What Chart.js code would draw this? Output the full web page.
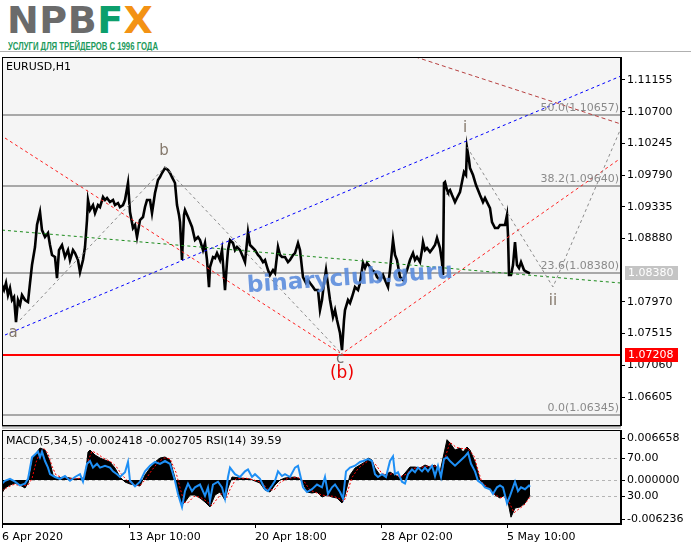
<!DOCTYPE html>
<html><head><meta charset="utf-8">
<script src="https://cdn.jsdelivr.net/npm/chart.js"></script>
<style>
html,body{margin:0;padding:0;background:#fff;width:691px;height:549px;overflow:hidden;position:relative;font-family:"DejaVu Sans",sans-serif}
#logo{position:absolute;left:7px;top:-2px;font:bold 38px "DejaVu Sans";line-height:44px;white-space:nowrap;letter-spacing:0.5px}
#logo .g{color:#6b6b6b}#logo .f{color:#0c9f6c}#logo .x{color:#f39214}
#sub{position:absolute;left:8px;top:40px;font:bold 11px "Liberation Sans";color:#1c9a5c;white-space:nowrap;transform-origin:0 0}
#topline{position:absolute;left:0;top:51px;width:691px;height:1px;background:#b0b0b0}
#sep{position:absolute;left:2px;top:426px;width:619px;height:2px;border-top:1px solid #8a8a8a;background:#d0d0d0}
canvas{position:absolute;left:0}
#price{top:57px}#macd{top:430px}
</style></head><body>
<div id="logo"><span class="g">NPB</span><span class="f">F</span><span class="x">X</span></div>
<div id="sub">УСЛУГИ ДЛЯ ТРЕЙДЕРОВ С 1996 ГОДА</div>
<div id="topline"></div>
<div id="sep"></div>
<canvas id="price" width="691" height="369"></canvas>
<canvas id="macd" width="691" height="119"></canvas>
<script>
// ---------------- DATA ----------------
const symbolTitle = 'EURUSD,H1';
const xTickIdx = [0, 127, 253, 379, 505];
const xTickLabels = ['6 Apr 2020', '13 Apr 10:00', '20 Apr 18:00', '28 Apr 02:00', '5 May 10:00'];
const priceTicks = [1.11155, 1.10700, 1.10245, 1.09790, 1.09335, 1.08880, 1.07970, 1.07515, 1.07060, 1.06605];
const priceMin = 1.06189, priceMax = 1.11485;

const priceIdx = [
0,2,4,6,8,10,12,14,16,18,
20,23,26,28,30,33,35,38,40,43,
46,48,50,53,55,57,60,63,66,68,
71,73,76,78,81,83,85,86,88,91,
93,96,98,101,103,105,108,111,113,116,
118,121,123,126,128,131,133,135,138,141,
143,145,148,150,153,156,158,160,163,166,
168,170,173,175,177,178,180,182,183,186,
188,190,193,196,198,201,203,205,207,208,
211,213,215,218,220,223,225,226,228,231,
233,235,238,241,243,246,248,250,253,256,
258,261,263,266,268,271,273,276,278,280,
283,286,288,291,293,296,298,301,304,306,
308,311,313,316,318,320,322,324,326,328,
331,333,335,338,340,342,343,346,348,350,
353,356,358,361,363,365,368,370,373,375,
378,381,383,386,388,391,393,395,398,401,
403,405,408,411,413,415,418,420,421,423,
425,428,431,433,435,438,440,441,442,443,
445,446,448,450,453,455,458,460,462,464,
465,467,468,471,474,476,478,481,483,485,
488,490,493,496,498,500,503,505,506,507,
509,511,513,515,517,519,522,525,528];
const priceVal = [
1.08212,1.08140,1.08241,1.08068,1.08169,1.07997,1.08040,1.07681,1.07997,1.07925,
1.08068,1.07997,1.07968,1.08241,1.08499,1.08758,1.09073,1.09260,1.09001,1.08901,
1.08958,1.08786,1.08643,1.08614,1.08312,1.08714,1.08786,1.08614,1.08714,1.08571,
1.08714,1.08671,1.08571,1.08399,1.08571,1.08758,1.09145,1.09432,1.09288,1.09360,
1.09245,1.09360,1.09332,1.09475,1.09432,1.09461,1.09403,1.09432,1.09360,1.09389,
1.09332,1.09360,1.09432,1.09676,1.09260,1.09030,1.09073,1.08901,1.09145,1.09188,
1.09332,1.09432,1.09432,1.09245,1.09532,1.09719,1.09762,1.09820,1.09891,1.09863,
1.09820,1.09762,1.09676,1.09360,1.09217,1.09116,1.08571,1.09217,1.09288,1.09188,
1.09116,1.09045,1.08858,1.08901,1.08858,1.08714,1.08815,1.08571,1.08183,1.08471,
1.08614,1.08599,1.08671,1.08571,1.08714,1.08140,1.08542,1.08714,1.08858,1.08815,
1.08714,1.08758,1.08714,1.08614,1.08542,1.08973,1.08786,1.08758,1.08714,1.08643,
1.08614,1.08542,1.08571,1.08427,1.08356,1.08427,1.08384,1.08758,1.08643,1.08614,
1.08614,1.08542,1.08571,1.08643,1.08671,1.08815,1.08714,1.08327,1.08241,1.08284,
1.08241,1.08183,1.08140,1.08140,1.07853,1.07997,1.08241,1.08427,1.08212,1.07997,
1.07753,1.07853,1.07710,1.07523,1.07279,1.07710,1.07853,1.07997,1.07954,1.08040,
1.08183,1.08140,1.08241,1.08528,1.08456,1.08528,1.08471,1.08427,1.08399,1.08327,
1.08284,1.08356,1.08284,1.08183,1.08427,1.08858,1.08643,1.08571,1.08327,1.08284,
1.08356,1.08427,1.08571,1.08671,1.08571,1.08614,1.08542,1.08714,1.08829,1.08714,
1.08743,1.08686,1.08743,1.08786,1.08887,1.08743,1.08542,1.08356,1.09676,1.09690,
1.09576,1.09547,1.09576,1.09504,1.09403,1.09461,1.09547,1.09690,1.09834,1.09791,
1.10179,1.10006,1.09891,1.09791,1.09647,1.09576,1.09504,1.09403,1.09461,1.09403,
1.09317,1.09116,1.09030,1.09030,1.09073,1.09073,1.09073,1.09217,1.08930,1.08356,
1.08356,1.08499,1.08829,1.08499,1.08456,1.08542,1.08427,1.08399,1.08380];

const bidPrice = 1.08380;
const supportLevel = 1.07208;
const fibLevels = ['0.0', '23.6', '38.2', '50.0'];
const fibPrices = [1.06345, 1.08380, 1.09640, 1.10657];

// trend / wave lines (endpoints as bar index and price)
const blueIdx = [3, 619], blueVal = [1.07495, 1.11212];
const redTopIdx = [380, 619], redTopVal = [1.11643, 1.10523];
const redDownIdx = [3, 338], redDownVal = [1.10322, 1.07237];
const redUpIdx = [338, 619], redUpVal = [1.07208, 1.10035];
const greenIdx = [0, 619], greenVal = [1.09001, 1.08241];
const waveAIdx = [18, 163, 338], waveAVal = [1.07710, 1.09906, 1.07251];
const waveBIdx = [465, 551, 619], waveBVal = [1.10193, 1.08184, 1.10466];

const waveText = ['a', 'b', 'c', '(b)', 'i', 'ii'];
const waveIdx = [11, 162, 338, 340, 463, 551];
const wavePrice = [1.07523, 1.10136, 1.07150, 1.06935, 1.10466, 1.07983];
const watermarkText = 'binaryclub.guru';
const watermarkIdx = 348, watermarkPrice = 1.08299;

// MACD(5,34,5) main, signal, RSI(14)
const macdIdx = [0,3,8,13,18,23,26,28,31,35,38,43,48,51,55,63,73,83,86,88,93,98,103,108,113,118,123,128,133,138,143,148,153,158,163,168,173,176,180,183,188,193,198,203,208,213,218,223,226,230,238,248,253,258,263,268,273,278,283,293,298,301,305,310,315,320,325,330,335,340,343,348,353,358,363,366,370,373,378,383,388,393,398,403,408,413,418,423,428,433,438,441,445,448,453,458,461,465,468,473,478,483,488,493,498,503,506,509,513,518,523,528];
const macdVal = [-0.00206,-0.00127,-0.00079,-0.00048,-0.00079,-0.00127,-0.00048,0.00079,0.00349,0.00444,
0.00508,0.00476,0.00286,0.00079,0.00032,0.00048,0.00016,0.00032,0.00444,0.00476,
0.00397,0.00349,0.00317,0.00286,0.00190,0.00048,-0.00032,-0.00063,-0.00079,-0.00095,
0.00079,0.00190,0.00286,0.00349,0.00365,0.00317,0.00032,-0.00190,-0.00397,-0.00349,
-0.00238,-0.00238,-0.00286,-0.00349,-0.00428,-0.00238,-0.00190,-0.00317,-0.00127,0.00048,
0.00032,0.00016,-0.00016,-0.00048,-0.00159,-0.00190,-0.00079,0,0.00032,0.00048,
0.00016,-0.00048,-0.00190,-0.00206,-0.00190,-0.00270,-0.00238,-0.00270,-0.00286,-0.00365,
-0.00238,0.00079,0.00190,0.00238,0.00286,0.00349,0.00317,0.00190,0.00079,0.00079,
0.00127,0.00079,0.00032,0.00111,0.00206,0.00206,0.00190,0.00238,0.00206,0.00238,
0.00127,0.00349,0.00640,0.00587,0.00476,0.00508,0.00444,0.00524,0.00476,0.00286,
0,-0.00111,-0.00127,-0.00238,-0.00286,-0.00238,-0.00349,-0.00590,-0.00444,-0.00428,
-0.00365,-0.002418];
const sigIdx = [0,6,12,20,26,30,34,38,42,46,50,54,60,70,82,86,90,96,102,108,114,120,126,132,138,144,150,156,162,168,174,178,182,186,192,198,204,210,215,220,225,228,234,244,252,260,266,272,278,286,296,302,308,314,320,326,332,338,342,346,350,356,362,368,374,380,386,392,398,404,410,418,426,434,440,444,448,454,460,466,472,476,480,486,492,498,504,508,512,516,522,528];
const sigVal = [-0.0017,-0.0011,-0.0007,-0.0009,-0.0008,0.0002,0.0028,0.0044,0.0050,0.0042,
0.0022,0.0008,0.0004,0.0002,0.0003,0.0030,0.0046,0.0041,0.0034,0.0030,
0.0022,0.0008,-0.0002,-0.0007,-0.0009,0.0002,0.0016,0.0028,0.0035,0.0034,
0.0012,-0.0012,-0.0035,-0.0036,-0.0026,-0.0027,-0.0033,-0.0041,-0.0030,-0.0021,
-0.0028,-0.0015,0.0002,0.0003,0.0000,-0.0004,-0.0015,-0.0016,-0.0004,0.0003,
0.0004,-0.0002,-0.0016,-0.0020,-0.0024,-0.0025,-0.0026,-0.0030,-0.0034,-0.0016,
0.0004,0.0018,0.0026,0.0032,0.0024,0.0010,0.0008,0.0011,0.0005,0.0009,
0.0018,0.0020,0.0022,0.0022,0.0015,0.0040,0.0060,0.0052,0.0050,0.0050,
0.0038,0.0016,-0.0004,-0.0012,-0.0022,-0.0028,-0.0027,-0.0038,-0.0052,-0.0047,
-0.0040,-0.002705];
const rsiIdx = [0,3,8,13,18,23,26,30,33,36,38,40,43,46,48,53,58,63,68,73,78,81,85,88,91,95,98,103,108,111,115,118,123,126,128,133,138,143,148,153,158,163,168,173,176,180,183,186,190,193,198,203,206,208,211,216,220,223,226,228,233,238,243,246,250,253,258,263,266,270,273,276,280,283,288,293,296,298,301,305,310,315,320,323,326,330,333,338,341,344,348,353,358,361,366,370,373,376,380,384,388,391,393,396,400,403,406,410,413,416,420,423,426,430,433,436,439,442,445,448,453,458,463,466,469,473,476,480,483,488,491,495,498,501,505,508,511,513,516,519,523,527,528];
const rsiVal = [43,46,48,45,41,43,48,71,74,77,
71,77,67,60,53,50,48,51,46,50,
53,45,64,67,60,64,60,62,60,56,
53,50,55,66,46,40,45,56,62,66,
64,67,64,46,32,18,35,43,35,39,
42,30,39,25,42,45,39,27,50,60,
53,50,56,58,50,53,48,37,35,41,
46,56,51,53,50,60,62,53,39,34,
37,42,39,50,32,39,42,34,27,56,
60,62,66,67,69,67,53,50,53,50,
67,72,53,55,45,43,53,58,55,60,
56,60,56,62,51,62,50,69,71,67,
62,67,72,76,64,56,46,43,39,37,
32,39,41,39,22,30,39,45,35,39,
37,41,39.59];
const macdTicks = [0.006658, 0, -0.006236];
const macdMin = -0.00698, macdMax = 0.00794;
const rsiLevels = [70, 30];

// ---------------- RENDER ----------------
Chart.defaults.font.family = 'DejaVu Sans';
Chart.defaults.font.size = 11;
const FONT = '11px "DejaVu Sans"';
const pts = (xs, ys) => xs.slice(0, Math.min(xs.length, ys.length)).map((x, i) => ({x, y: ys[i]}));
const noPad = s => { s.paddingTop = 0; s.paddingBottom = 0; s.paddingLeft = 0; s.paddingRight = 0; };

const sub = document.getElementById('sub');
sub.style.transform = 'scaleX(' + (150 / sub.getBoundingClientRect().width) + ')';

const pricePanel = {
  id: 'pricePanel',
  beforeDraw(c) {
    const {ctx, chartArea: a} = c;
    ctx.save(); ctx.fillStyle = '#f5f5f5';
    ctx.fillRect(a.left, a.top, a.right - a.left, a.bottom - a.top); ctx.restore();
  },
  beforeDatasetsDraw(c) {
    const {ctx, chartArea: a, scales: {y}} = c;
    ctx.save();
    ctx.strokeStyle = '#8e8e8e'; ctx.lineWidth = 1.5;
    fibPrices.forEach(p => { const py = Math.round(y.getPixelForValue(p)); ctx.beginPath(); ctx.moveTo(a.left, py); ctx.lineTo(a.right, py); ctx.stroke(); });
    ctx.strokeStyle = '#ff0000'; ctx.lineWidth = 2;
    const ry = Math.round(y.getPixelForValue(supportLevel));
    ctx.beginPath(); ctx.moveTo(a.left, ry); ctx.lineTo(a.right, ry); ctx.stroke();
    ctx.restore();
  },
  afterDatasetsDraw(c) {
    const {ctx, chartArea: a, scales: {x, y}} = c;
    ctx.save();
    // fib labels
    ctx.font = FONT; ctx.fillStyle = '#8a8a8a'; ctx.textAlign = 'right'; ctx.textBaseline = 'bottom';
    fibPrices.forEach((p, i) => ctx.fillText(fibLevels[i] + '(' + p.toFixed(5) + ')', a.right - 2, Math.round(y.getPixelForValue(p)) - 1));
    // watermark
    ctx.save();
    ctx.translate(x.getPixelForValue(watermarkIdx), y.getPixelForValue(watermarkPrice));
    ctx.rotate(-4 * Math.PI / 180);
    ctx.font = 'bold 23px "DejaVu Sans"'; ctx.fillStyle = 'rgba(88,138,220,0.88)';
    ctx.textAlign = 'center'; ctx.textBaseline = 'middle';
    ctx.fillText(watermarkText, 0, 0);
    ctx.restore();
    // wave labels
    ctx.textAlign = 'center'; ctx.textBaseline = 'middle';
    waveText.forEach((t, i) => {
      ctx.font = t === '(b)' ? '17px "DejaVu Sans"' : '15px "DejaVu Sans"';
      ctx.fillStyle = t === '(b)' ? '#ee0000' : (t === 'c' ? '#6e6e6e' : '#85796c');
      ctx.fillText(t, x.getPixelForValue(waveIdx[i]), y.getPixelForValue(wavePrice[i]));
    });
    // title
    ctx.font = FONT; ctx.fillStyle = '#000'; ctx.textAlign = 'left'; ctx.textBaseline = 'middle';
    ctx.fillText(symbolTitle, a.left + 4, a.top + 10);
    // frame
    ctx.strokeStyle = '#000'; ctx.lineWidth = 1;
    ctx.strokeRect(a.left + 0.5, a.top + 0.5, a.right - a.left - 1, a.bottom - a.top - 1);
    ctx.restore();
  },
  afterDraw(c) {
    const {ctx, chartArea: a, scales: {y}} = c;
    ctx.save(); ctx.font = FONT; ctx.textAlign = 'left'; ctx.textBaseline = 'middle';
    const box = (p, bg, fg) => {
      const py = Math.round(y.getPixelForValue(p));
      ctx.fillStyle = bg; ctx.fillRect(a.right + 4, py - 7, 53, 14);
      ctx.fillStyle = fg; ctx.fillText(p.toFixed(5), a.right + 7, py);
    };
    box(bidPrice, '#c4c4c4', '#ffffff');
    box(supportLevel, '#ff0000', '#ffffff');
    ctx.restore();
  }
};

new Chart(document.getElementById('price'), {
  type: 'line',
  data: { datasets: [
    {data: pts(waveAIdx, waveAVal), borderColor: '#8c8c8c', borderDash: [3, 3], borderWidth: 1},
    {data: pts(waveBIdx, waveBVal), borderColor: '#8c8c8c', borderDash: [3, 3], borderWidth: 1},
    {data: pts(blueIdx, blueVal), borderColor: '#0000ff', borderDash: [3, 3], borderWidth: 1},
    {data: pts(redTopIdx, redTopVal), borderColor: '#b84040', borderDash: [4, 3], borderWidth: 1},
    {data: pts(redDownIdx, redDownVal), borderColor: '#ff2020', borderDash: [3, 3], borderWidth: 1},
    {data: pts(redUpIdx, redUpVal), borderColor: '#ff2020', borderDash: [3, 3], borderWidth: 1},
    {data: pts(greenIdx, greenVal), borderColor: '#1a8a1a', borderDash: [3, 3], borderWidth: 1},
    {data: pts(priceIdx, priceVal), borderColor: '#000', borderWidth: 2.6, tension: 0, borderJoinStyle: 'miter'}
  ]},
  options: {
    responsive: false, animation: false, devicePixelRatio: 1, events: [],
    elements: {point: {radius: 0}, line: {fill: false}},
    layout: {padding: {left: 2, right: 0, top: 0, bottom: 0}},
    plugins: {legend: {display: false}, tooltip: {enabled: false}},
    scales: {
      x: {type: 'linear', min: 0, max: 619, display: false},
      y: {position: 'right', min: priceMin, max: priceMax,
        afterFit: s => { s.width = 70; noPad(s); },
        afterBuildTicks: s => { s.ticks = priceTicks.map(v => ({value: v})); },
        ticks: {autoSkip: false, color: '#000', padding: 2, callback: v => v.toFixed(5)},
        grid: {drawOnChartArea: false, tickLength: 4, color: '#000'},
        border: {color: '#000'}}
    }
  },
  plugins: [pricePanel]
});

const macdPanel = {
  id: 'macdPanel',
  beforeDraw(c) {
    const {ctx, chartArea: a} = c;
    ctx.save(); ctx.fillStyle = '#f5f5f5';
    ctx.fillRect(a.left, a.top, a.right - a.left, a.bottom - a.top); ctx.restore();
  },
  beforeDatasetsDraw(c) {
    const {ctx, chartArea: a, scales: {y, y2}} = c;
    ctx.save(); ctx.strokeStyle = '#b4b4b4'; ctx.lineWidth = 1; ctx.setLineDash([3, 3]);
    const lines = [y.getPixelForValue(0)].concat(rsiLevels.map(v => y2.getPixelForValue(v)));
    lines.forEach(py => { py = Math.round(py) + 0.5; ctx.beginPath(); ctx.moveTo(a.left, py); ctx.lineTo(a.right, py); ctx.stroke(); });
    ctx.restore();
  },
  afterDatasetsDraw(c) {
    const {ctx, chartArea: a} = c;
    ctx.save(); ctx.font = FONT; ctx.fillStyle = '#000'; ctx.textAlign = 'left'; ctx.textBaseline = 'middle';
    const txt = 'MACD(5,34,5) ' + macdVal[macdVal.length - 1].toFixed(6) + ' ' + sigVal[sigVal.length - 1].toFixed(6) +
      ' RSI(14) ' + rsiVal[rsiVal.length - 1].toFixed(2);
    ctx.fillText(txt, a.left + 4, a.top + 11);
    ctx.strokeStyle = '#000'; ctx.lineWidth = 1;
    ctx.strokeRect(a.left + 0.5, a.top + 0.5, a.right - a.left - 1, a.bottom - a.top - 1);
    ctx.restore();
  },
  afterDraw(c) {
    const {ctx, chartArea: a, scales: {y2}} = c;
    ctx.save(); ctx.font = FONT; ctx.fillStyle = '#000'; ctx.textAlign = 'left'; ctx.textBaseline = 'middle';
    ctx.strokeStyle = '#000'; ctx.lineWidth = 1;
    rsiLevels.forEach(v => {
      const py = Math.round(y2.getPixelForValue(v));
      ctx.beginPath(); ctx.moveTo(a.right, py + 0.5); ctx.lineTo(a.right + 4, py + 0.5); ctx.stroke();
      ctx.fillText(v.toFixed(2), a.right + 6, py);
    });
    ctx.restore();
  }
};

new Chart(document.getElementById('macd'), {
  type: 'line',
  data: { datasets: [
    {data: pts(rsiIdx, rsiVal), yAxisID: 'y2', borderColor: '#1e8ff5', borderWidth: 2, tension: 0},
    {data: pts(sigIdx, sigVal), borderColor: '#ff0000', borderDash: [2, 2], borderWidth: 1},
    {data: pts(macdIdx, macdVal), borderColor: '#000', backgroundColor: '#000', borderWidth: 1, fill: 'origin'}
  ]},
  options: {
    responsive: false, animation: false, devicePixelRatio: 1, events: [],
    elements: {point: {radius: 0}},
    layout: {padding: {left: 2, right: 0, top: 0, bottom: 0}},
    plugins: {legend: {display: false}, tooltip: {enabled: false}},
    scales: {
      x: {type: 'linear', min: 0, max: 619,
        afterFit: s => { s.height = 25; noPad(s); },
        afterBuildTicks: s => { s.ticks = xTickIdx.map(v => ({value: v})); },
        ticks: {autoSkip: false, maxRotation: 0, minRotation: 0, align: 'start', color: '#000', padding: 3,
          callback: (v, i) => xTickLabels[i]},
        grid: {drawOnChartArea: false, tickLength: 4, color: '#000'},
        border: {color: '#000'}},
      y: {position: 'right', min: macdMin, max: macdMax,
        afterFit: s => { s.width = 70; noPad(s); },
        afterBuildTicks: s => { s.ticks = macdTicks.map(v => ({value: v})); },
        ticks: {autoSkip: false, color: '#000', padding: 2, callback: v => v.toFixed(6)},
        grid: {drawOnChartArea: false, tickLength: 4, color: '#000'},
        border: {color: '#000'}},
      y2: {display: false, min: 0, max: 100}
    }
  },
  plugins: [macdPanel]
});
</script>
</body></html>
